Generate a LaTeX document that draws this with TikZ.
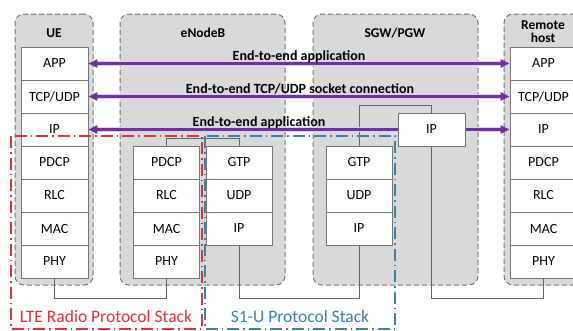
\documentclass[tikz,border=0pt]{standalone}
\usepackage{fontspec}
\setmainfont{Carlito}
\usetikzlibrary{arrows.meta}
\definecolor{cfill}{RGB}{217,217,217}
\definecolor{cborder}{RGB}{118,118,118}
\definecolor{pur}{RGB}{112,48,160}
\definecolor{ltered}{RGB}{218,50,62}
\definecolor{sblue}{RGB}{58,128,172}
\definecolor{conn}{RGB}{100,100,100}
\begin{document}
\begin{tikzpicture}[x=1pt,y=-1pt,
  container/.style={draw=cborder, fill=cfill, dash pattern=on 5pt off 3pt, rounded corners=9pt, line width=1pt, inner sep=0pt},
  layer/.style={draw=cborder, fill=white, line width=0.6pt, minimum width=67pt, minimum height=33pt, inner sep=0pt, font=\fontsize{14}{16}\selectfont},
  nlayer/.style={layer, minimum width=66pt},
  ttl/.style={font=\bfseries\fontsize{13.5}{15}\selectfont, align=center, inner sep=0pt},
  albl/.style={font=\bfseries\fontsize{14}{16}\selectfont, inner sep=0pt},
  e2eglow/.style={draw=pur!22, line width=4.5pt, shorten <=4pt, shorten >=4pt},
  e2e/.style={draw=pur, line width=2.2pt, {Triangle[length=9pt,width=8pt]}-{Triangle[length=9pt,width=8pt]}},
  cline/.style={draw=conn, line width=0.7pt},
  ddot/.style={line width=2pt, dash pattern=on 12pt off 4pt on 1.5pt off 4pt},
  slbl/.style={font=\fontsize{17.5}{19}\selectfont, inner sep=0pt}
]
\useasboundingbox (0,0) rectangle (573,330);
\clip (0,0) rectangle (573,330);
\fill[white] (0,0) rectangle (573,330);

% containers
\node[container, minimum width=78pt, minimum height=271pt] (ue) at (54,149.5) {};
\node[container, minimum width=165pt, minimum height=271pt] (enb) at (202.5,149.5) {};
\node[container, minimum width=165pt, minimum height=271pt] (sgw) at (395.5,149.5) {};
\node[container, minimum width=96pt, minimum height=271pt] (rh) at (552,149.5) {};

\node[ttl] (ue-t) at (54,33) {UE};
\node[ttl] (enb-t) at (203,33) {eNodeB};
\node[ttl] (sgw-t) at (395,33) {SGW/PGW};
\node[ttl] (rh-t) at (543,32) {Remote\\[-2pt]host};

% UE stack
\node[layer] (ue-app) at (54.5,63.5) {APP};
\node[layer] (ue-tcp) at (54.5,96.5) {TCP/UDP};
\node[layer] (ue-ip) at (54.5,129.5) {IP};
\node[layer] (ue-pdcp) at (54.5,162.5) {PDCP};
\node[layer] (ue-rlc) at (54.5,195.5) {RLC};
\node[layer] (ue-mac) at (54.5,228.5) {MAC};
\node[layer] (ue-phy) at (54.5,261.5) {PHY};

% eNodeB stacks
\node[nlayer] (enb-pdcp) at (166.5,162.5) {PDCP};
\node[nlayer] (enb-rlc) at (166.5,195.5) {RLC};
\node[nlayer] (enb-mac) at (166.5,228.5) {MAC};
\node[nlayer] (enb-phy) at (166.5,261.5) {PHY};
\node[nlayer] (enb-gtp) at (239,162.5) {GTP};
\node[nlayer] (enb-udp) at (239,195.5) {UDP};
\node[nlayer] (enb-ip) at (239,228.5) {IP};

% SGW stack
\node[nlayer] (sgw-gtp) at (359,162.5) {GTP};
\node[nlayer] (sgw-udp) at (359,195.5) {UDP};
\node[nlayer] (sgw-l3) at (359,228.5) {IP};

% Remote host stack
\node[layer] (rh-app) at (543.5,63.5) {APP};
\node[layer] (rh-tcp) at (543.5,96.5) {TCP/UDP};
\node[layer] (rh-ip) at (543.5,129.5) {IP};
\node[layer] (rh-pdcp) at (543.5,162.5) {PDCP};
\node[layer] (rh-rlc) at (543.5,195.5) {RLC};
\node[layer] (rh-mac) at (543.5,228.5) {MAC};
\node[layer] (rh-phy) at (543.5,261.5) {PHY};

% gray connectors
\draw[cline] (ue-phy.south) -- ++(0,20) -| (enb-phy.south);
\draw[cline] (enb-pdcp.north) -- ++(0,-7) -| (enb-gtp.north);
\draw[cline] (enb-ip.south) -- ++(0,53) -| (sgw-l3.south);
\draw[cline] (sgw-gtp.north) -- ++(0,-40) -| (431.5,113);
\draw[cline] (431.5,146) -- (431.5,298) -| (rh-phy.south);

% end-to-end arrows
\draw[e2eglow] (ue-app.east) -- (rh-app.west);
\draw[e2eglow] (ue-tcp.east) -- (rh-tcp.west);
\draw[e2eglow] (ue-ip.east) -- (rh-ip.west);
\draw[e2e] (ue-app.east) -- (rh-app.west);
\draw[e2e] (ue-tcp.east) -- (rh-tcp.west);
\draw[e2e] (ue-ip.east) -- (rh-ip.west);

% SGW IP box on top of the IP arrow
\node[layer] (sgw-ip) at (431.5,129.5) {IP};

\node[albl] (l-app) at (299,57) {End-to-end application};
\node[albl] (l-tcp) at (300,89) {End-to-end TCP/UDP socket connection};
\node[albl] (l-ip) at (259,123) {End-to-end application};

% protocol stack regions
\draw[ddot, draw=ltered] (11,136) rectangle (202,329);
\draw[ddot, draw=sblue] (205,136) rectangle (395,329);
\node[slbl, text=ltered] (l-lte) at (106,316) {LTE Radio Protocol Stack};
\node[slbl, text=sblue] (l-s1) at (300,316) {S1-U Protocol Stack};
\end{tikzpicture}
\end{document}
